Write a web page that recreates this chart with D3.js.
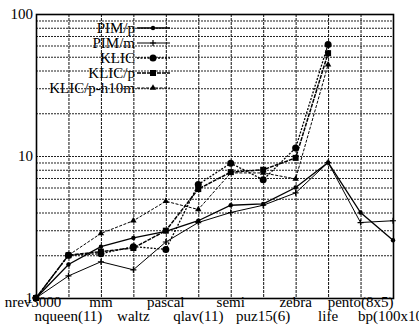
<!DOCTYPE html>
<html>
<head>
<meta charset="utf-8">
<script src="https://cdn.jsdelivr.net/npm/d3@7"></script>
<style>
  body { margin: 0; background: #fff; }
  svg { display: block; font-family: "Liberation Serif", "DejaVu Serif", serif; }
</style>
</head>
<body>
<svg id="chart" width="419" height="326"></svg>
<script>
const categories = ["nrev3000", "nqueen(11)", "mm", "waltz", "pascal", "qlav(11)",
                    "semi", "puz15(6)", "zebra", "life", "pento(8x5)", "bp(100x10)"];
const seriesNames = ["PIM/p", "PIM/m", "KLIC", "KLIC/p", "KLIC/p-h10m"];
const pimP = [1, 1.72, 2.3, 2.65, 2.95, 3.5, 4.5, 4.6, 6.0, 9.0, 4.0, 2.55];
const pimM = [1, 1.43, 1.8, 1.58, 2.48, 3.4, 4.0, 4.5, 5.5, 9.0, 3.4, 3.5];
const klic = [1, 2.0, 2.05, 2.3, 2.2, 6.3, 8.9, 6.8, 11.4, 61];
const klicP = [1, 2.0, 2.12, 2.25, 2.98, 5.85, 7.7, 8.0, 9.7, 53];
const klicH = [1, 2.0, 2.85, 3.5, 4.8, 4.2, 7.6, 7.6, 6.9, 44];
const yTicks = [1, 10, 100];

const width = 419, height = 326;
const margin = { top: 14, right: 26, bottom: 28, left: 36 };

const svg = d3.select("#chart");

const x = d3.scalePoint()
  .domain(categories)
  .range([margin.left, width - margin.right]);

const y = d3.scaleLog()
  .domain([1, 100])
  .range([height - margin.bottom, margin.top]);

// grid
const minor = [];
[1, 10].forEach(d => { for (let k = 1; k < 10; k++) minor.push(d * k); });
svg.append("g")
  .selectAll("line")
  .data(minor.filter(v => v > 1))
  .join("line")
  .attr("x1", margin.left).attr("x2", width - margin.right)
  .attr("y1", d => y(d) + 0.5).attr("y2", d => y(d) + 0.5)
  .attr("stroke", "#222").attr("stroke-width", 1)
  .attr("stroke-dasharray", "2,1");

svg.append("g")
  .selectAll("line")
  .data(categories.slice(1, -1))
  .join("line")
  .attr("x1", d => x(d) + 0.5).attr("x2", d => x(d) + 0.5)
  .attr("y1", margin.top).attr("y2", height - margin.bottom)
  .attr("stroke", "#111").attr("stroke-width", 1)
  .attr("stroke-dasharray", "3,1");

// frame
svg.append("rect")
  .attr("x", margin.left + 0.5).attr("y", margin.top + 0.5)
  .attr("width", width - margin.left - margin.right)
  .attr("height", height - margin.top - margin.bottom)
  .attr("fill", "none").attr("stroke", "#000").attr("stroke-width", 1.6);

// y axis labels
svg.append("g")
  .selectAll("text")
  .data(yTicks)
  .join("text")
  .attr("x", margin.left - 3)
  .attr("y", d => y(d) + 5)
  .attr("text-anchor", "end")
  .attr("font-size", 15)
  .text(d => d);

// x axis labels, alternating rows
svg.append("g")
  .selectAll("text")
  .data(categories)
  .join("text")
  .attr("x", d => x(d) - (d === "nrev3000" ? 3 : 0))
  .attr("y", (d, i) => height - margin.bottom + (i % 2 ? 23 : 9))
  .attr("text-anchor", "middle")
  .attr("font-size", 15)
  .text(d => d);

const styles = [
  { data: pimP, dash: null, w: 1.3, marker: "dot" },
  { data: pimM, dash: null, w: 1.0, marker: "plus" },
  { data: klic, dash: "2,1.5", w: 1.3, marker: "circle" },
  { data: klicP, dash: "4,1", w: 1.5, marker: "square" },
  { data: klicH, dash: "3,1.5", w: 1.0, marker: "triangle" }
];

const line = d3.line()
  .x((d, i) => x(categories[i]))
  .y(d => y(d));

function drawMarker(g, type, cx, cy) {
  if (type === "dot") {
    g.append("circle").attr("cx", cx).attr("cy", cy).attr("r", 2.2).attr("fill", "#000");
  } else if (type === "plus") {
    g.append("path").attr("d", `M${cx - 3},${cy}H${cx + 3}M${cx},${cy - 3}V${cy + 3}`)
      .attr("stroke", "#000").attr("stroke-width", 1.2);
  } else if (type === "circle") {
    g.append("circle").attr("cx", cx).attr("cy", cy).attr("r", 3.5).attr("fill", "#000");
  } else if (type === "square") {
    g.append("rect").attr("x", cx - 3).attr("y", cy - 3).attr("width", 6).attr("height", 6)
      .attr("fill", "#000");
  } else {
    g.append("path").attr("d", d3.symbol(d3.symbolTriangle, 18)())
      .attr("transform", `translate(${cx},${cy})`).attr("fill", "#000");
  }
}

const plot = svg.append("g");
styles.forEach(s => {
  plot.append("path")
    .datum(s.data)
    .attr("d", line)
    .attr("fill", "none")
    .attr("stroke", "#000")
    .attr("stroke-width", s.w)
    .attr("stroke-dasharray", s.dash);
  s.data.forEach((v, i) => drawMarker(plot, s.marker, x(categories[i]), y(v)));
});

// legend
const legend = svg.append("g");
seriesNames.forEach((name, i) => {
  const ly = 28 + i * 15;
  legend.append("text")
    .attr("x", 135).attr("y", ly + 5)
    .attr("text-anchor", "end")
    .attr("font-size", 15)
    .text(name);
  legend.append("line")
    .attr("x1", 137).attr("x2", 170)
    .attr("y1", ly).attr("y2", ly)
    .attr("stroke", "#000")
    .attr("stroke-width", styles[i].w)
    .attr("stroke-dasharray", styles[i].dash);
  drawMarker(legend, styles[i].marker, 153, ly);
});
</script>
</body>
</html>
